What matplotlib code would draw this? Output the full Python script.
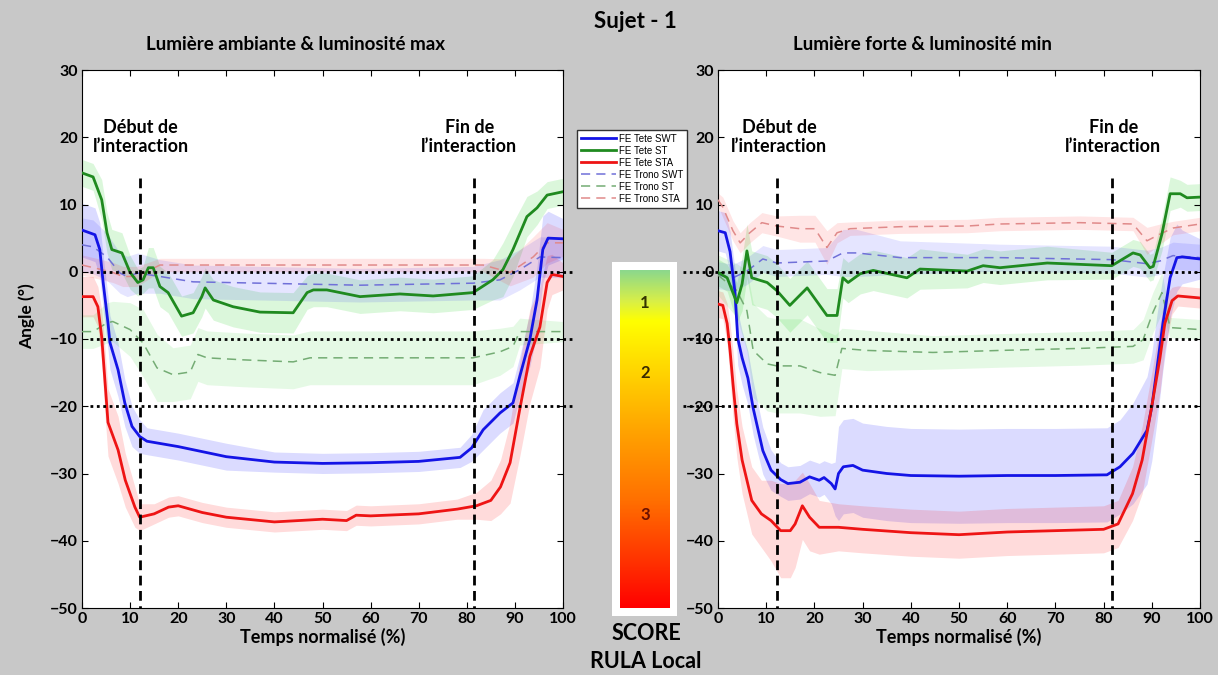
import numpy as np
import matplotlib
matplotlib.use("Agg")
import matplotlib.pyplot as plt
from matplotlib.colors import LinearSegmentedColormap
from matplotlib.patches import Rectangle

plt.rcParams['font.family'] = ['Lato', 'DejaVu Sans']
plt.rcParams['font.weight'] = 'bold'
plt.rcParams['axes.labelweight'] = 'bold'

# ---- left panel : Lumiere ambiante & luminosite max ----
L_TETE_SWT_X = [0, 2.7, 3.7, 4.4, 5.4, 5.8, 7.5, 8.9, 10.4, 12, 13.5, 20, 30, 40, 50, 60, 70, 78.6, 81, 83.4,
                86.9, 89.6, 91, 93.1, 94.6, 95.8, 96.9, 100]
L_TETE_SWT_Y = [6.2, 5.5, 3.3, -1.6, -7.6, -10.5, -14.6, -19.5, -23, -24.5, -25.2, -26, -27.5, -28.3, -28.5, -28.4,
                -28.2, -27.6, -26.2, -23.5, -21, -19.5, -15.6, -10.1, -4.2, 3.3, 5, 4.9]
L_TETE_SWT_SD = [4, 4, 4, 4, 4, 4, 4, 3.5, 3, 2.5, 2, 2, 2, 1.5, 1.5, 1.5, 1.5, 1.5, 2, 3,
                 3, 3, 3, 4, 5, 5, 4, 3]

L_TETE_ST_X = [0, 2.3, 4.1, 5.2, 6.2, 8.3, 10, 11.6, 12.7, 13.8, 14.8, 16.2, 17.9, 20.7, 23.1, 24.9, 25.6, 27.3,
               31.4, 37, 43.9, 46.8, 48.1, 50.9, 57.8, 66.1, 73, 81.3, 85.4, 87.5, 89.6, 92.5, 94.6, 96.7, 100]
L_TETE_ST_Y = [14.7, 14.1, 10.7, 5.8, 3.3, 2.8, -0.1, -1.6, -1.2, 0.6, 0.6, -2.2, -3.1, -6.6, -6.1, -3.7, -2.4, -4.2,
               -5.2, -6, -6.1, -3.1, -2.7, -2.7, -3.7, -3.3, -3.6, -3.1, -1.2, 0.3, 3.3, 8.2, 9.5, 11.4, 11.9]
L_TETE_ST_SD = [2, 2, 3, 3, 3, 3, 2.5, 2, 2, 3, 3, 3, 3, 3, 3, 3, 3, 3,
                3, 3, 3, 2.5, 2.5, 2.5, 2.5, 2.5, 2.5, 2.5, 3, 4, 4, 3, 2.5, 2, 2]

L_TETE_STA_X = [0, 2.3, 3.3, 4.1, 4.8, 5.4, 7.5, 9, 11, 12, 15, 18, 20, 25, 30, 40, 50, 55, 57, 60,
                70, 78, 82, 85, 87, 89, 91, 93.1, 95.2, 96.7, 97.7, 100]
L_TETE_STA_Y = [-3.7, -3.7, -5.2, -9.7, -16.5, -22.4, -26.5, -31, -35, -36.5, -36, -35, -34.8, -35.8, -36.5, -37.2,
                -36.8, -37, -36.2, -36.3, -36, -35.3, -34.8, -34, -32, -28.4, -20.5, -12.6, -8.2, -1.6, -0.4, -0.7]
L_TETE_STA_SD = [3, 3, 3, 4, 5, 5, 5, 4, 3, 2, 1.5, 1.5, 1.5, 1.5, 1.5, 1.5, 1.5, 1.5, 1.5, 1.5,
                 1.5, 1.5, 2, 3, 4, 6, 7, 7, 6, 4, 3, 2]

L_TRONC_SWT_X = [0, 2.3, 5.2, 7.9, 9.4, 11.6, 16.2, 23.1, 37, 57.8, 66, 81.3, 86.9, 91, 95.2, 100]
L_TRONC_SWT_Y = [4, 3.7, 2.2, -0.2, -0.7, -0.2, -0.7, -1.5, -1.7, -2.0, -1.9, -1.7, -1.2, 0.3, 2.2, 2.1]
L_TRONC_SWT_SD = [4, 4, 3.5, 3, 3, 3, 2.5, 2.5, 2.5, 2.5, 2.5, 2.5, 3, 3, 3, 3]

L_TRONC_ST_X = [0, 2.3, 5.2, 6.4, 10, 12.7, 15.6, 18.9, 22.5, 24.1, 26, 33.5, 43.9, 47.4, 57.8, 66, 81.3, 86.9,
                89.6, 91, 100]
L_TRONC_ST_Y = [-8.9, -8.9, -7.6, -7.4, -8.6, -10.6, -14.3, -15.3, -14.9, -12.3, -12.8, -13.1, -13.4, -12.8,
                -12.8, -12.8, -12.8, -11.9, -11.1, -8.9, -8.9]
L_TRONC_ST_SD = [2.5, 2.5, 3, 3, 4, 5, 5, 4, 4, 4, 4, 4, 4, 4, 4, 4, 4, 3.5, 3, 2, 1.5]

L_TRONC_STA_X = [0, 3, 6.4, 8.5, 11.4, 16.2, 23.1, 37, 57.8, 66, 83.4, 89, 93.8, 96.7, 100]
L_TRONC_STA_Y = [1, 0.5, -0.1, -0.7, -0.7, 1, 1, 1, 1, 1, 1, -0.1, 2.2, 4.3, 4.3]
L_TRONC_STA_SD = [1.5, 1.5, 1.5, 1.5, 1.5, 1, 1, 1, 1, 1, 1, 2, 3, 3, 2]

# ---- right panel : Lumiere forte & luminosite min ----
R_TETE_SWT_X = [0, 1.5, 2.5, 3.5, 4.1, 5, 6.2, 7.3, 9.3, 11, 13, 14.5, 17, 19, 21, 22, 23.5, 24.3, 25, 26,
                28, 30, 35, 40, 50, 60, 70, 80.7, 83.4, 86.1, 89, 90, 91.1, 92.3, 93.8, 95.2, 96.3, 100]
R_TETE_SWT_Y = [6.1, 5.8, 3, -2.9, -9.9, -12.8, -15.8, -20.3, -26.6, -29.5, -30.9, -31.5, -31.3, -30.5, -31,
                -30.6, -31.5, -32.3, -30, -29, -28.8, -29.5, -30, -30.3, -30.4, -30.3, -30.3, -30.2, -29, -27,
                -23.6, -20.1, -14.2, -7.7, -0.9, 2.1, 2.2, 1.9]
R_TETE_SWT_SD = [3, 3, 3, 3.5, 4, 4, 4, 4, 3.5, 3, 2.5, 2.5, 2.5, 2.5, 2.5, 2.5, 3, 4, 7, 7,
                 7, 7, 7, 7, 7, 7, 7, 7, 7, 7.5, 8, 8, 8, 7, 6, 5, 4, 3]

R_TETE_ST_X = [0, 1.9, 3.9, 5, 6, 7, 10.2, 12.2, 14.9, 18.5, 22.6, 24.7, 25.9, 27, 29.5, 32.2, 39.2, 41.9, 51.7,
               55, 58.5, 68.3, 81.7, 86.1, 87.6, 89.6, 90.3, 92.1, 93.8, 95.9, 97.3, 100]
R_TETE_ST_Y = [-0.1, -0.9, -4.6, -1.8, 3.1, -0.9, -1.6, -2.8, -5, -2.4, -6.5, -6.5, -0.9, -1.6, -0.3, 0.2, -0.9,
               0.4, 0.1, 0.9, 0.6, 1.3, 0.9, 2.8, 2.5, 0.6, 0.8, 5.6, 11.6, 11.6, 11, 11.1]
R_TETE_ST_SD = [2, 2, 3, 4, 4, 4, 4, 4, 4, 4, 4, 4, 3, 3, 3, 3, 3, 3, 2.5,
                2.5, 2.5, 2.5, 2, 2, 2, 2, 2, 2.5, 2.5, 2, 2, 2]

R_TETE_STA_X = [0, 1, 1.9, 2.5, 3.1, 3.9, 5, 7, 9, 11, 13, 15, 16, 17.5, 19, 21, 25, 30, 40, 50,
                60, 70, 80, 83, 86, 88, 90, 91.7, 92.7, 94.2, 95.4, 100]
R_TETE_STA_Y = [-4.8, -5, -7.7, -11.7, -16.6, -22.6, -28, -34, -36, -37, -38.5, -38.5, -37.5, -34.8, -36.5, -38,
                -38, -38.3, -38.8, -39.1, -38.7, -38.5, -38.3, -37.5, -33, -28, -20, -12.8, -7.7, -4.3, -3.6, -3.9]
R_TETE_STA_SD = [2, 2, 3, 4, 5, 5, 5, 5, 5, 6, 7, 7, 6.5, 5, 5, 4, 3.5, 3.5, 3.5, 3.5,
                 3.5, 3.5, 3.5, 3.5, 4, 5, 5, 5, 4, 2, 1.5, 1.5]

R_TRONC_SWT_X = [0, 3.1, 6, 9.3, 12.2, 22.6, 25.9, 28.8, 37.8, 58.5, 81.7, 89, 91.7, 94.4, 100]
R_TRONC_SWT_Y = [-0.5, -0.9, 0.1, 1.9, 1.3, 1.6, 2.8, 2.8, 2.1, 2.1, 1.8, 1.2, 1.6, 2.4, 2.1]
R_TRONC_SWT_SD = [2, 2, 2, 2, 2, 2, 3.5, 3.5, 2.5, 2, 2, 2, 2, 2, 2]

R_TRONC_ST_X = [0, 3.9, 6, 7.3, 10.2, 12.2, 17, 21.2, 24.3, 25.7, 30.9, 44.6, 58.5, 75.1, 86.1, 88.2, 90.2, 92.1,
                93.8, 100]
R_TRONC_ST_Y = [-0.5, -2.8, -5.8, -11.7, -13.7, -14, -14, -15, -15.4, -11.4, -11.7, -12, -11.7, -11.4, -11.1,
                -10.1, -6.1, -3.1, -8.3, -8.6]
R_TRONC_ST_SD = [3, 4, 6, 7, 7, 7, 7, 6.5, 6, 3, 3, 2.5, 2.5, 2.5, 2.5, 3, 3, 3, 1.5, 1.5]

R_TRONC_STA_X = [0, 1, 3.1, 4.6, 6.6, 9.1, 12.2, 17, 20.1, 22.6, 24.7, 27.4, 37.8, 51.7, 58.5, 75.1, 86.1, 89,
                 91.7, 94.4, 100]
R_TRONC_STA_Y = [10.7, 9.6, 6.1, 4.3, 5.8, 7.3, 6.8, 6.4, 6.4, 3.6, 5.8, 6.4, 6.7, 6.8, 7.1, 7.3, 7.1, 4.6,
                 5.6, 6.5, 7.1]
R_TRONC_STA_SD = [1, 1.5, 1.5, 1.5, 1.5, 1.5, 1.5, 2, 2, 2.5, 1.5, 1, 1, 1, 1, 1, 1, 2, 1.5, 1, 1]

LABELS = ["FE Tete SWT", "FE Tete ST", "FE Tete STA", "FE Trono SWT", "FE Trono ST", "FE Trono STA"]
TITLES = ["Lumière ambiante & luminosité max", "Lumière forte & luminosité min"]
START_LINE = [12, 12.2]
END_LINE = [81.5, 81.8]
REF_LEVELS = [0, -10, -20]
SCORES = ["1", "2", "3"]

BG = '#c8c8c8'
COLORS = ['#1414e6', '#1f8a1f', '#ee1414', '#7070d8', '#74ac74', '#e08a8a']
BAND_COLORS = ['#0000ff', '#00cc00', '#ff0000', '#0000ff', '#00cc00', '#ff0000']

W, H = 1218, 675
fig = plt.figure(figsize=(W / 100, H / 100), dpi=100, facecolor=BG)


def px_box(x0, y0, x1, y1):
    return [x0 / W, 1 - y1 / H, (x1 - x0) / W, (y1 - y0) / H]


def draw_panel(ax, series, start, end, dot_from, dot_to):
    handles = []
    # bands first
    for i, (x, y, sd) in enumerate(series):
        x = np.array(x); y = np.array(y); sd = np.array(sd)
        a = 0.14 if i < 3 else 0.10
        ax.fill_between(x, y - sd, y + sd, color=BAND_COLORS[i], alpha=a, lw=0, zorder=1)
    for i, (x, y, sd) in enumerate(series):
        if i < 3:
            h, = ax.plot(x, y, color=COLORS[i], lw=2, zorder=4)
        else:
            h, = ax.plot(x, y, color=COLORS[i], lw=1.1, ls=(0, (6, 4)), zorder=3)
        handles.append(h)
    for lev in REF_LEVELS:
        ax.plot([dot_from, dot_to], [lev, lev], color='k', lw=2, ls=(0, (1, 1.3)),
                clip_on=False, zorder=5)
    for xv in (start, end):
        ax.plot([xv, xv], [14, -50], color='k', lw=2, ls=(0, (3.5, 2)), zorder=5)
    ax.set_xlim(0, 100)
    ax.set_ylim(-50, 30)
    ax.set_xticks(np.arange(0, 101, 10))
    ax.set_yticks(np.arange(-50, 31, 10))
    ax.tick_params(direction='in', top=True, right=True, length=4, labelsize=11.5, pad=3)
    ax.set_xlabel("Temps normalisé (%)", fontsize=13, labelpad=1)
    for s in ax.spines.values():
        s.set_linewidth(0.8)
    return handles


ax1 = fig.add_axes(px_box(82, 70, 563, 608))
ax2 = fig.add_axes(px_box(718, 70, 1200, 608))

left = [(L_TETE_SWT_X, L_TETE_SWT_Y, L_TETE_SWT_SD),
        (L_TETE_ST_X, L_TETE_ST_Y, L_TETE_ST_SD),
        (L_TETE_STA_X, L_TETE_STA_Y, L_TETE_STA_SD),
        (L_TRONC_SWT_X, L_TRONC_SWT_Y, L_TRONC_SWT_SD),
        (L_TRONC_ST_X, L_TRONC_ST_Y, L_TRONC_ST_SD),
        (L_TRONC_STA_X, L_TRONC_STA_Y, L_TRONC_STA_SD)]
right = [(R_TETE_SWT_X, R_TETE_SWT_Y, R_TETE_SWT_SD),
         (R_TETE_ST_X, R_TETE_ST_Y, R_TETE_ST_SD),
         (R_TETE_STA_X, R_TETE_STA_Y, R_TETE_STA_SD),
         (R_TRONC_SWT_X, R_TRONC_SWT_Y, R_TRONC_SWT_SD),
         (R_TRONC_ST_X, R_TRONC_ST_Y, R_TRONC_ST_SD),
         (R_TRONC_STA_X, R_TRONC_STA_Y, R_TRONC_STA_SD)]

handles = draw_panel(ax1, left, START_LINE[0], END_LINE[0], 1.7, 102.5)
draw_panel(ax2, right, START_LINE[1], END_LINE[1], -7.3, 100)

# interaction labels
for ax, xs, xe in ((ax1, 12.2, 80.5), (ax2, 12.7, 82)):
    ax.text(xs, 20.0, "Début de\nl’interaction", ha='center', va='center', fontsize=13, linespacing=1.15)
    ax.text(xe, 20.0, "Fin de\nl’interaction", ha='center', va='center', fontsize=13, linespacing=1.15)

# titles and labels
fig.text(635 / W, 1 - 22 / H, "Sujet - 1", ha='center', va='center', fontsize=16)
fig.text(296 / W, 1 - 45 / H, TITLES[0], ha='center', va='center', fontsize=13.5)
fig.text(922 / W, 1 - 45 / H, TITLES[1], ha='center', va='center', fontsize=13.5)
fig.text(27 / W, 1 - 316 / H, "Angle (°)", ha='center', va='center', rotation=90, fontsize=12.5)

# legend
fig.legend(handles, LABELS, loc='upper left', bbox_to_anchor=(577 / W, 1 - 130 / H),
           prop={'family': 'Liberation Sans', 'weight': 'normal', 'size': 7},
           frameon=True, fancybox=False, edgecolor='#333333', framealpha=1,
           handlelength=3.6, handletextpad=0.3, labelspacing=0.2, borderpad=0.4,
           borderaxespad=0)

# RULA score colour bar
fig.patches.append(Rectangle((612 / W, 1 - 616 / H), 65 / W, 354 / H, transform=fig.transFigure,
                             facecolor='white', edgecolor='none', zorder=-1))
cmap = LinearSegmentedColormap.from_list('rula', [(0.0, '#ff0000'), (0.14, '#ff3300'), (0.32, '#ff7000'),
                                                  (0.53, '#ffa500'), (0.67, '#ffcc00'), (0.85, '#ffff00'),
                                                  (0.91, '#d8ef48'), (1.0, '#8cd88c')])
axc = fig.add_axes(px_box(620, 270, 670, 608))
axc.set_zorder(3)
axc.imshow(np.linspace(1, 0, 256).reshape(-1, 1), aspect='auto', cmap=cmap, extent=[0, 1, 0, 1])
axc.axis('off')
for s, yp, c in zip(SCORES, [303, 373, 515], ['#333300', '#3a2a00', '#6a1000']):
    axc.text(0.5, (608 - yp) / 338, s, transform=axc.transAxes, ha='center', va='center',
             fontsize=12, color=c)
fig.text(646 / W, 1 - 634 / H, "SCORE", ha='center', va='center', fontsize=15.5)
fig.text(646 / W, 1 - 662 / H, "RULA Local", ha='center', va='center', fontsize=15.5)

fig.savefig("out.png", dpi=100, facecolor=BG)
